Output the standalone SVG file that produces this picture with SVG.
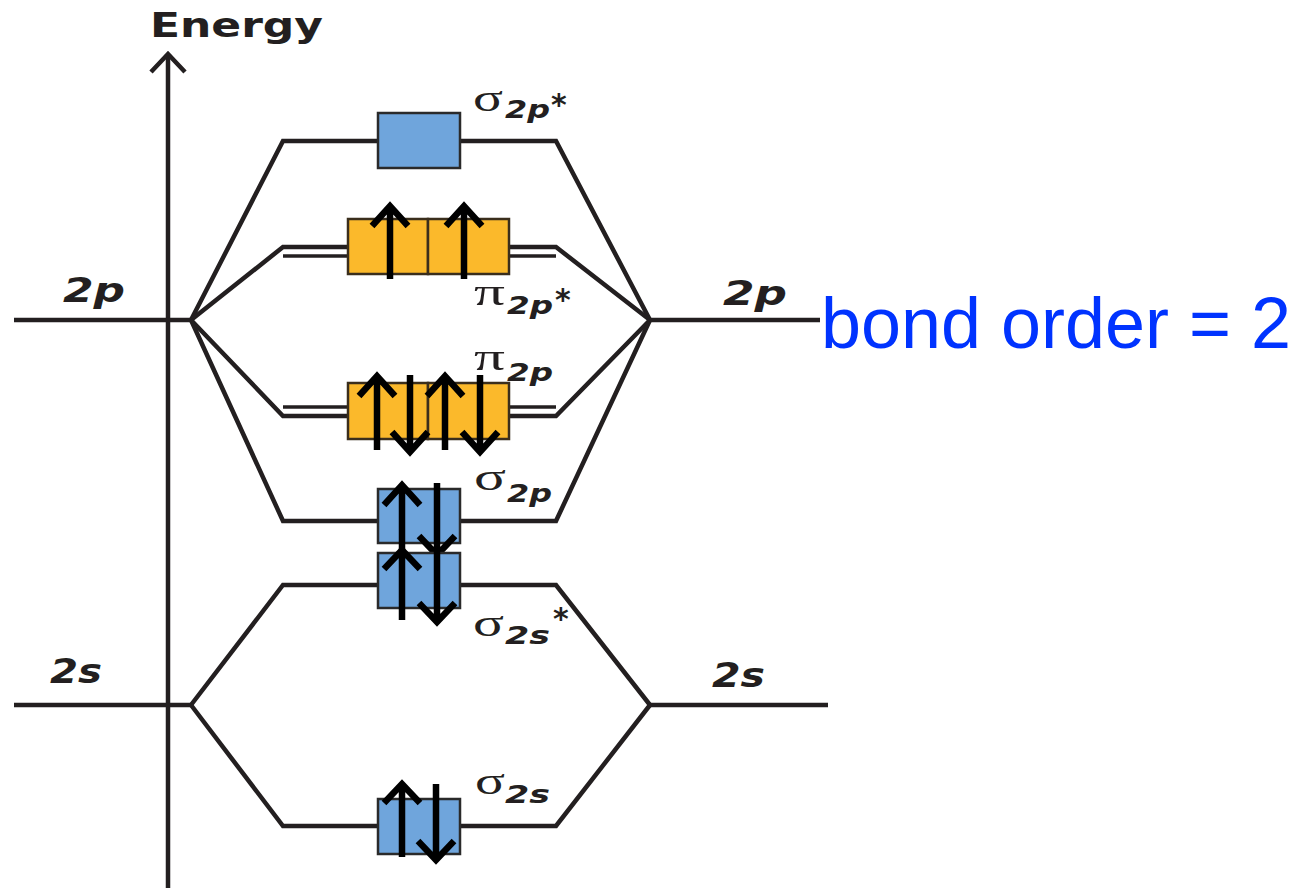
<svg xmlns="http://www.w3.org/2000/svg" width="1299" height="888" viewBox="0 0 1299 888">
<style>
.ln{fill:none;stroke:#231f20;stroke-width:4.5;stroke-linejoin:miter}
.dl{fill:none;stroke:#231f20;stroke-width:3.6}
.sb{fill:#6fa5dc;stroke:#2a2a2a;stroke-width:2.5}
.pb{fill:#fbb92b;stroke:#3a2e1c;stroke-width:2.5}
.e{fill:none;stroke:#000;stroke-width:6.5;stroke-linecap:butt;stroke-linejoin:miter}
.gr{font-family:"Liberation Serif","DejaVu Serif",serif;font-size:38px;fill:#231f20}
.sub{font-family:"DejaVu Sans",sans-serif;font-weight:bold;font-style:italic;font-size:25px;fill:#231f20}
.st{font-family:"DejaVu Sans",sans-serif;font-weight:bold;font-size:30px;fill:#231f20}
.at{font-family:"DejaVu Sans",sans-serif;font-weight:bold;font-style:italic;font-size:34px;fill:#231f20}
</style>

<g id="axis">
<line class="ln" x1="168" y1="56" x2="168" y2="888" stroke-width="5"/>
<polyline class="ln" points="151,72 168,54 185,72" stroke-width="6.5"/>
<text x="150" y="37" font-family="DejaVu Sans, sans-serif" font-weight="bold" font-size="33" fill="#231f20" textLength="173" lengthAdjust="spacingAndGlyphs">Energy</text>
</g>

<g id="connectors">
<!-- atomic levels -->
<line class="ln" x1="14" y1="320" x2="191" y2="320"/>
<line class="ln" x1="650" y1="320" x2="820" y2="320"/>
<line class="ln" x1="14" y1="705" x2="191" y2="705"/>
<line class="ln" x1="650" y1="705" x2="828" y2="705"/>
<!-- sigma 2p* -->
<polyline class="ln" points="191,320 283,141 556,141 650,320"/>
<!-- pi 2p* -->
<polyline class="ln" points="191,320 283,247 556,247 650,320" stroke-width="3.8"/>
<line class="dl" x1="283" y1="256" x2="556" y2="256"/>
<!-- pi 2p -->
<polyline class="ln" points="191,320 283,416 556,416 650,320" stroke-width="3.8"/>
<line class="dl" x1="283" y1="407" x2="556" y2="407"/>
<!-- sigma 2p -->
<polyline class="ln" points="191,320 283,521 556,521 650,320"/>
<!-- sigma 2s* -->
<polyline class="ln" points="191,705 283,585 556,585 650,705"/>
<!-- sigma 2s -->
<polyline class="ln" points="191,705 283,826 556,826 650,705"/>
</g>

<g id="atomic-labels">
<text class="at" x="63" y="302" textLength="62" lengthAdjust="spacingAndGlyphs">2p</text>
<text class="at" x="723" y="305" textLength="64" lengthAdjust="spacingAndGlyphs">2p</text>
<text class="at" x="50" y="683" textLength="52" lengthAdjust="spacingAndGlyphs">2s</text>
<text class="at" x="712" y="687" textLength="53" lengthAdjust="spacingAndGlyphs">2s</text>
</g>

<g id="sigma2p-star">
<rect class="sb" x="378" y="113" width="82" height="55"/>
<text class="gr" x="473" y="111" textLength="30" lengthAdjust="spacingAndGlyphs">σ</text>
<text class="sub" x="505" y="118" textLength="45" lengthAdjust="spacingAndGlyphs">2p</text>
<text class="st" x="551" y="115">*</text>
</g>

<g id="pi2p-star">
<rect class="pb" x="348" y="219" width="80" height="55"/>
<rect class="pb" x="428" y="219" width="81" height="55"/>
<path class="e" d="M390,279 V205 M372,226 L390,206 L408,226"/>
<path class="e" d="M464,279 V205 M446,226 L464,206 L482,226"/>
<text class="gr" x="474" y="305" textLength="31" lengthAdjust="spacingAndGlyphs">π</text>
<text class="sub" x="507" y="314" textLength="46" lengthAdjust="spacingAndGlyphs">2p</text>
<text class="st" x="555" y="310">*</text>
</g>

<g id="pi2p">
<rect class="pb" x="348" y="383" width="80" height="56"/>
<rect class="pb" x="428" y="383" width="81" height="56"/>
<path class="e" d="M377,450 V376 M359,396 L377,376 L395,396"/>
<path class="e" d="M410,375 V452 M392,432 L410,452 L428,432"/>
<path class="e" d="M445,450 V376 M427,396 L445,376 L463,396"/>
<path class="e" d="M480,375 V452 M462,432 L480,452 L498,432"/>
<text class="gr" x="474" y="370" textLength="31" lengthAdjust="spacingAndGlyphs">π</text>
<text class="sub" x="507" y="381" textLength="46" lengthAdjust="spacingAndGlyphs">2p</text>
</g>

<g id="sigma2p">
<rect class="sb" x="378" y="489" width="82" height="54"/>
<path class="e" d="M402,560 V485 M384,505 L402,485 L420,505"/>
<path class="e" d="M437,483 V555 M419,536 L437,555 L455,536"/>
<text class="gr" x="474" y="490" textLength="32" lengthAdjust="spacingAndGlyphs">σ</text>
<text class="sub" x="507" y="502" textLength="45" lengthAdjust="spacingAndGlyphs">2p</text>
</g>

<g id="sigma2s-star">
<rect class="sb" x="378" y="553" width="82" height="55"/>
<path class="e" d="M402,620 V550 M384,569 L402,550 L420,569"/>
<path class="e" d="M437,550 V622 M419,603 L437,622 L455,603"/>
<text class="gr" x="473" y="636" textLength="31" lengthAdjust="spacingAndGlyphs">σ</text>
<text class="sub" x="505" y="644" textLength="45" lengthAdjust="spacingAndGlyphs">2s</text>
<text class="st" x="553" y="629">*</text>
</g>

<g id="sigma2s">
<rect class="sb" x="378" y="799" width="82" height="55"/>
<path class="e" d="M402,857 V784 M384,803 L402,784 L420,803"/>
<path class="e" d="M436,784 V860 M418,841 L436,860 L454,841"/>
<text class="gr" x="475" y="794" textLength="30" lengthAdjust="spacingAndGlyphs">σ</text>
<text class="sub" x="505" y="803" textLength="45" lengthAdjust="spacingAndGlyphs">2s</text>
</g>

<g id="bond-order">
<text x="821" y="348" font-family="Liberation Sans, Arial, sans-serif" font-size="72" fill="#0033ff" textLength="470" lengthAdjust="spacingAndGlyphs">bond order = 2</text>
</g>
</svg>
